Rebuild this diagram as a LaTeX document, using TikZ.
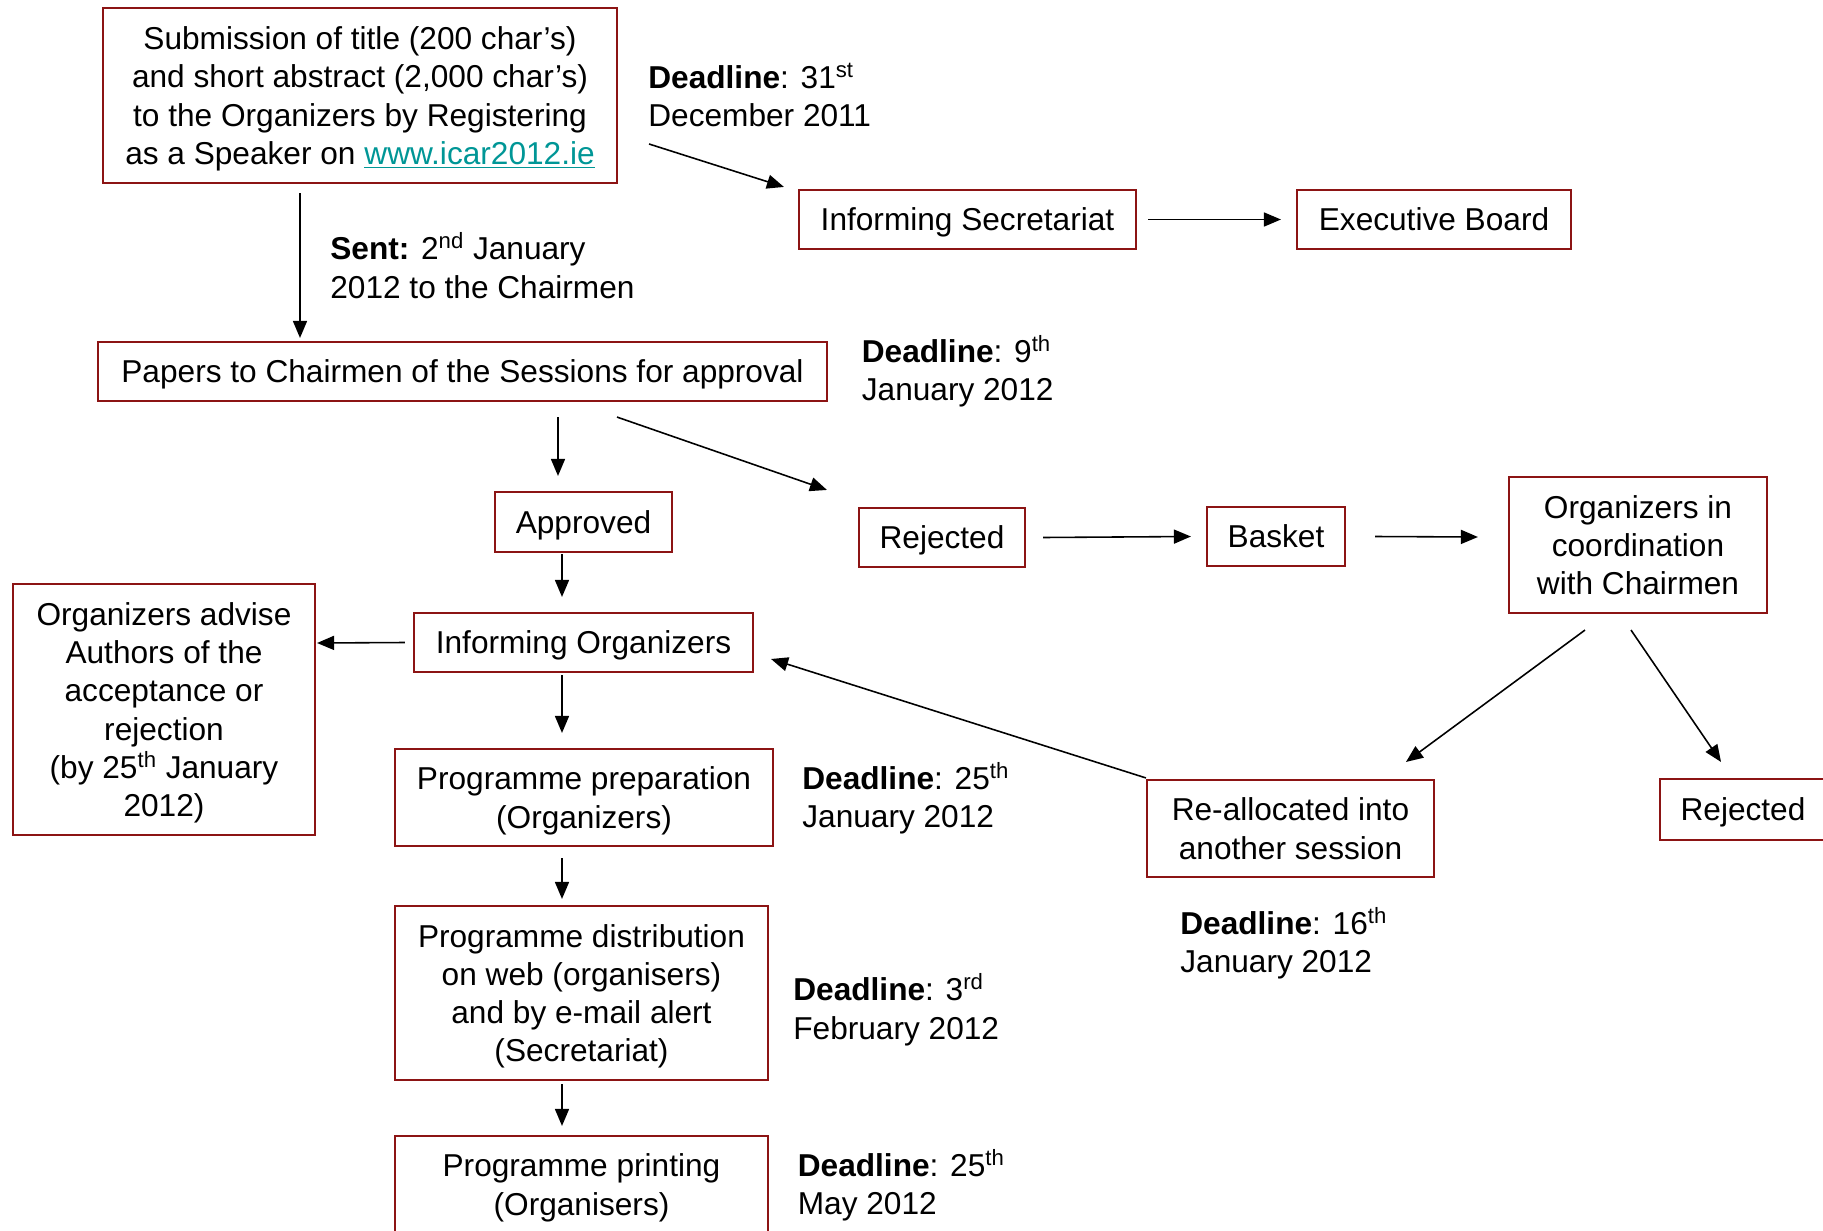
\documentclass[tikz,border=0pt]{standalone}
\usepackage{fontspec}
\setmainfont{Liberation Sans}
\usetikzlibrary{calc,arrows.meta}
\definecolor{boxred}{RGB}{140,20,20}
\definecolor{linkteal}{RGB}{0,150,150}
\begin{document}
\begin{tikzpicture}[x=0.2mm,y=-0.2mm,
    font=\fontsize{18}{21.8}\selectfont,
    box/.style={draw=boxred,line width=1.2pt,align=center,inner sep=0pt,text depth=0pt},
    arr/.style={line width=0.9pt,-{Triangle[length=3.4mm,width=2.8mm]}},
    note/.style={anchor=west,align=left,inner sep=0pt}]
    \useasboundingbox (0,0) rectangle (1823,1231);
    % boxes
    \node[box,minimum width=102.8mm,minimum height=35mm] (sub) at (360,95.5)
        {Submission of title (200 char’s)\\and short abstract (2,000 char’s)\\to the Organizers by Registering\\as a Speaker on \textcolor{linkteal}{\underline{www.icar2012.ie}}};
    \node[box,minimum width=67.4mm,minimum height=11.8mm] (infsec) at (967.5,219.5) {Informing Secretariat};
    \node[box,minimum width=54.8mm,minimum height=11.8mm] (exec) at (1434,219.5) {Executive Board};
    \node[box,minimum width=145.8mm,minimum height=11.8mm] (papers) at (462.5,371.5) {Papers to Chairmen of the Sessions for approval};
    \node[box,minimum width=35.4mm,minimum height=12mm] (approved) at (583.5,522) {Approved};
    \node[box,minimum width=33.2mm,minimum height=11.8mm] (rejA) at (942,537.5) {Rejected};
    \node[box,minimum width=27.6mm,minimum height=11.8mm] (basket) at (1276,536.5) {Basket};
    \node[box,minimum width=51.6mm,minimum height=27.2mm] (orgco) at (1638,545) {Organizers in\\coordination\\with Chairmen};
    \node[box,minimum width=67.8mm,minimum height=11.8mm] (inforg) at (583.5,642.5) {Informing Organizers};
    \node[box,minimum width=60.4mm,minimum height=50.2mm] (advise) at (164,709.5)
        {Organizers advise\\Authors of the\\acceptance or\\rejection\\(by 25\textsuperscript{th} January\\2012)};
    \node[box,minimum width=75.6mm,minimum height=19.4mm] (prep) at (584,797.5) {Programme preparation\\(Organizers)};
    \node[box,minimum width=57.4mm,minimum height=19.4mm] (realloc) at (1290.5,828.5) {Re-allocated into\\another session};
    \node[box,minimum width=33.2mm,minimum height=12.2mm] (rejB) at (1743,809.5) {Rejected};
    \node[box,minimum width=74.6mm,minimum height=34.8mm] (distr) at (581.5,993)
        {Programme distribution\\on web (organisers)\\and by e-mail alert\\(Secretariat)};
    \node[box,minimum width=74.6mm,minimum height=19.4mm] (printing) at (581.5,1184.5) {Programme printing\\(Organisers)};
    % dates
    \node[note] (dlA) at (648,94.8) {\textbf{Deadline}: 31\textsuperscript{st}\\December 2011};
    \node[note] (sent) at (330,265.7) {\textbf{Sent:} 2\textsuperscript{nd} January\\2012 to the Chairmen};
    \node[note] (dlB) at (861.5,371.4) {\textbf{Deadline}: 9\textsuperscript{th}\\January 2012};
    \node[note] (dlC) at (802,798) {\textbf{Deadline}: 25\textsuperscript{th}\\January 2012};
    \node[note] (dlD) at (1180,943.5) {\textbf{Deadline}: 16\textsuperscript{th}\\January 2012};
    \node[note] (dlE) at (793,1009.7) {\textbf{Deadline}: 3\textsuperscript{rd}\\February 2012};
    \node[note] (dlF) at (797.5,1185.3) {\textbf{Deadline}: 25\textsuperscript{th}\\May 2012};
    % arrows
    \draw[arr] ($(sub.south)+(-60,9)$) -- ($(papers.north)+(-162.5,-3)$);
    \draw[arr] ($(sub.east)+(31,48.5)$) -- ($(infsec.north west)+(-14,-2)$);
    \draw[arr] ($(infsec.east)+(11,0)$) -- ($(exec.west)+(-15,0)$);
    \draw[arr] ($(papers.south)+(95.5,15)$) -- ($(approved.north)+(-25.5,-15)$);
    \draw[arr] ($(papers.south)+(154.5,15)$) -- ($(rejA.north west)+(-31,-17)$);
    \draw[arr] ($(approved.south)+(-21.5,1)$) -- ($(inforg.north)+(-21.5,-15)$);
    \draw[arr] ($(rejA.east)+(17,0)$) -- ($(basket.west)+(-15,0)$);
    \draw[arr] ($(basket.east)+(29,0)$) -- ($(orgco.west)+(-30,-8)$);
    \draw[arr] ($(inforg.west)+(-8,0)$) -- ($(advise.east)+(1,-66.5)$);
    \draw[arr] ($(inforg.south)+(-21.5,2)$) -- ($(prep.north)+(-22,-15)$);
    \draw[arr] ($(orgco.south)+(-53,16)$) -- ($(realloc.north)+(115.5,-17)$);
    \draw[arr] ($(orgco.south)+(-7,16)$) -- ($(rejB.north)+(-22,-16)$);
    \draw[arr] ($(realloc.north west)+(0,-1)$) -- ($(inforg.east)+(17,16.5)$);
    \draw[arr] ($(prep.south)+(-22,11)$) -- ($(distr.north)+(-19.5,-6)$);
    \draw[arr] ($(distr.south)+(-19.5,3)$) -- ($(printing.north)+(-19.5,-9)$);
\end{tikzpicture}
\end{document}
